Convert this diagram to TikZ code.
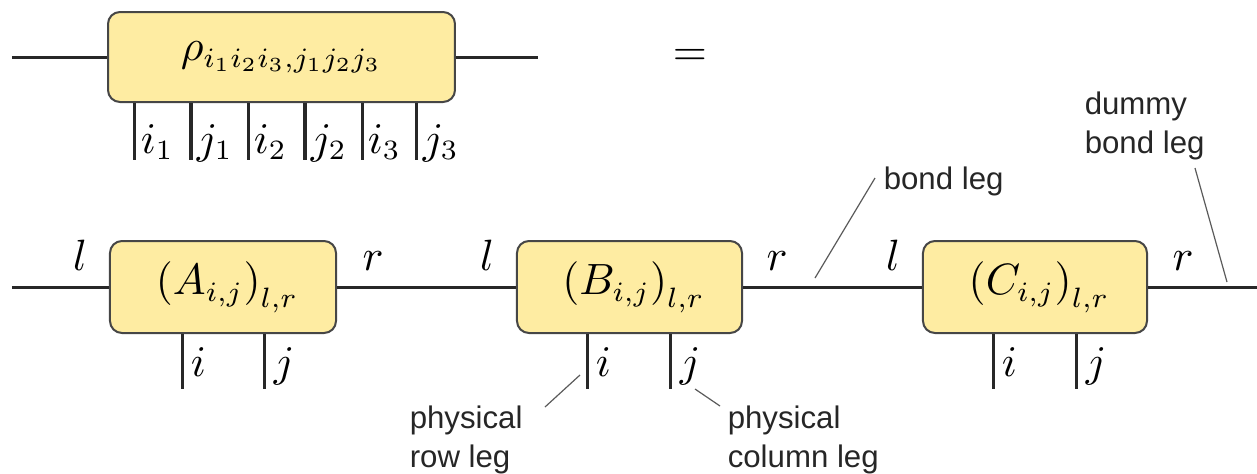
\documentclass[tikz,border=0pt]{standalone}
\usepackage{fontspec}
\newfontfamily\labelfont{Liberation Sans}
\definecolor{boxfill}{RGB}{254,236,162}
\definecolor{boxdraw}{RGB}{70,70,70}
\definecolor{wire}{RGB}{40,40,40}
\definecolor{pointer}{RGB}{90,90,90}
\begin{document}
\begin{tikzpicture}[x=0.25pt,y=-0.25pt,
  font=\fontsize{10.6}{13}\selectfont,
  tensor/.style={draw=boxdraw,line width=0.5pt,fill=boxfill,rounded corners=3pt,inner sep=0pt},
  wireline/.style={draw=wire,line width=0.75pt},
  legline/.style={draw=wire,line width=0.75pt},
  idx/.style={inner sep=0pt,anchor=base west},
  bondlab/.style={inner sep=0pt,anchor=base},
  note/.style={inner sep=0pt,anchor=north west,align=left,font=\labelfont\fontsize{7.8}{9.75}\selectfont,text=black!85},
  pointerline/.style={draw=pointer,line width=0.3pt}]
\useasboundingbox (0,0) rectangle (1257,473);
% ---------- top tensor ----------
\node[tensor,minimum width=86.75pt,minimum height=22.5pt] (rho) at (281.5,57) {\raisebox{-1.2pt}{$\rho_{i_1i_2i_3,j_1j_2j_3}$}};
\coordinate (rhoL) at (12,57);
\coordinate (rhoR) at (538,57);
\draw[wireline] (rhoL) -- (rho.west);
\draw[wireline] (rho.east) -- (rhoR);
\foreach \x/\lab [count=\k] in {135/i_1,191/j_1,248/i_2,305/j_2,362/i_3,417/j_3}{
  \coordinate (tleg\k) at (\x,160);
  \draw[legline] (tleg\k |- rho.south) -- (tleg\k);
  \node[idx] (tlab\k) at (\x+5,153) {$\lab$};
}
\node[inner sep=0pt] (eq) at (690,57) {$=$};
% ---------- bottom row ----------
\node[tensor,minimum width=56.5pt,minimum height=23pt] (A) at (223,287) {\hspace{2pt}$\bigl(A_{i,j}\bigr)_{l,r}$};
\node[tensor,minimum width=56.25pt,minimum height=23pt] (B) at (629.5,287) {\hspace{2pt}$\bigl(B_{i,j}\bigr)_{l,r}$};
\node[tensor,minimum width=56pt,minimum height=23pt] (C) at (1035,287) {\hspace{2pt}$\bigl(C_{i,j}\bigr)_{l,r}$};
\coordinate (left0) at (12,287);
\coordinate (right0) at (1257,287);
\draw[wireline] (left0) -- (A.west);
\draw[wireline] (A.east) -- (B.west);
\draw[wireline] (B.east) -- (C.west);
\draw[wireline] (C.east) -- (right0);
% bond labels
\node[bondlab] (lA) at (80,270) {$l$};
\node[bondlab] (rA) at (373,270) {$r$};
\node[bondlab] (lB) at (487,270) {$l$};
\node[bondlab] (rB) at (777,270) {$r$};
\node[bondlab] (lC) at (893,270) {$l$};
\node[bondlab] (rC) at (1183,270) {$r$};
% physical legs
\foreach \n/\xi/\xj in {A/182/265,B/587/671,C/993/1077}{
  \coordinate (\n i) at (\xi,389);
  \coordinate (\n j) at (\xj,389);
  \draw[legline] (\n i |- \n.south) -- (\n i);
  \draw[legline] (\n j |- \n.south) -- (\n j);
  \node[idx] (\n ilab) at (\xi+8,376) {$i$};
  \node[idx] (\n jlab) at (\xj+8,376) {$j$};
}
% ---------- annotations ----------
\node[note,anchor=base west] (bondnote) at (883,189) {bond leg};
\coordinate (bondA) at (815,278);
\coordinate (bondB) at (875,178);
\draw[pointerline] (bondA) -- (bondB);
\node[note] (dummynote) at (1084,91) {dummy\\bond leg};
\coordinate (dumA) at (1195,168);
\coordinate (dumB) at (1227,282);
\draw[pointerline] (dumA) -- (dumB);
\node[note] (rownote) at (409,405) {physical\\row leg};
\coordinate (rowA) at (545,407);
\coordinate (rowB) at (580,375);
\draw[pointerline] (rowA) -- (rowB);
\node[note] (colnote) at (727,405) {physical\\column leg};
\coordinate (colA) at (695,389);
\coordinate (colB) at (720,406);
\draw[pointerline] (colA) -- (colB);
\end{tikzpicture}
\end{document}
